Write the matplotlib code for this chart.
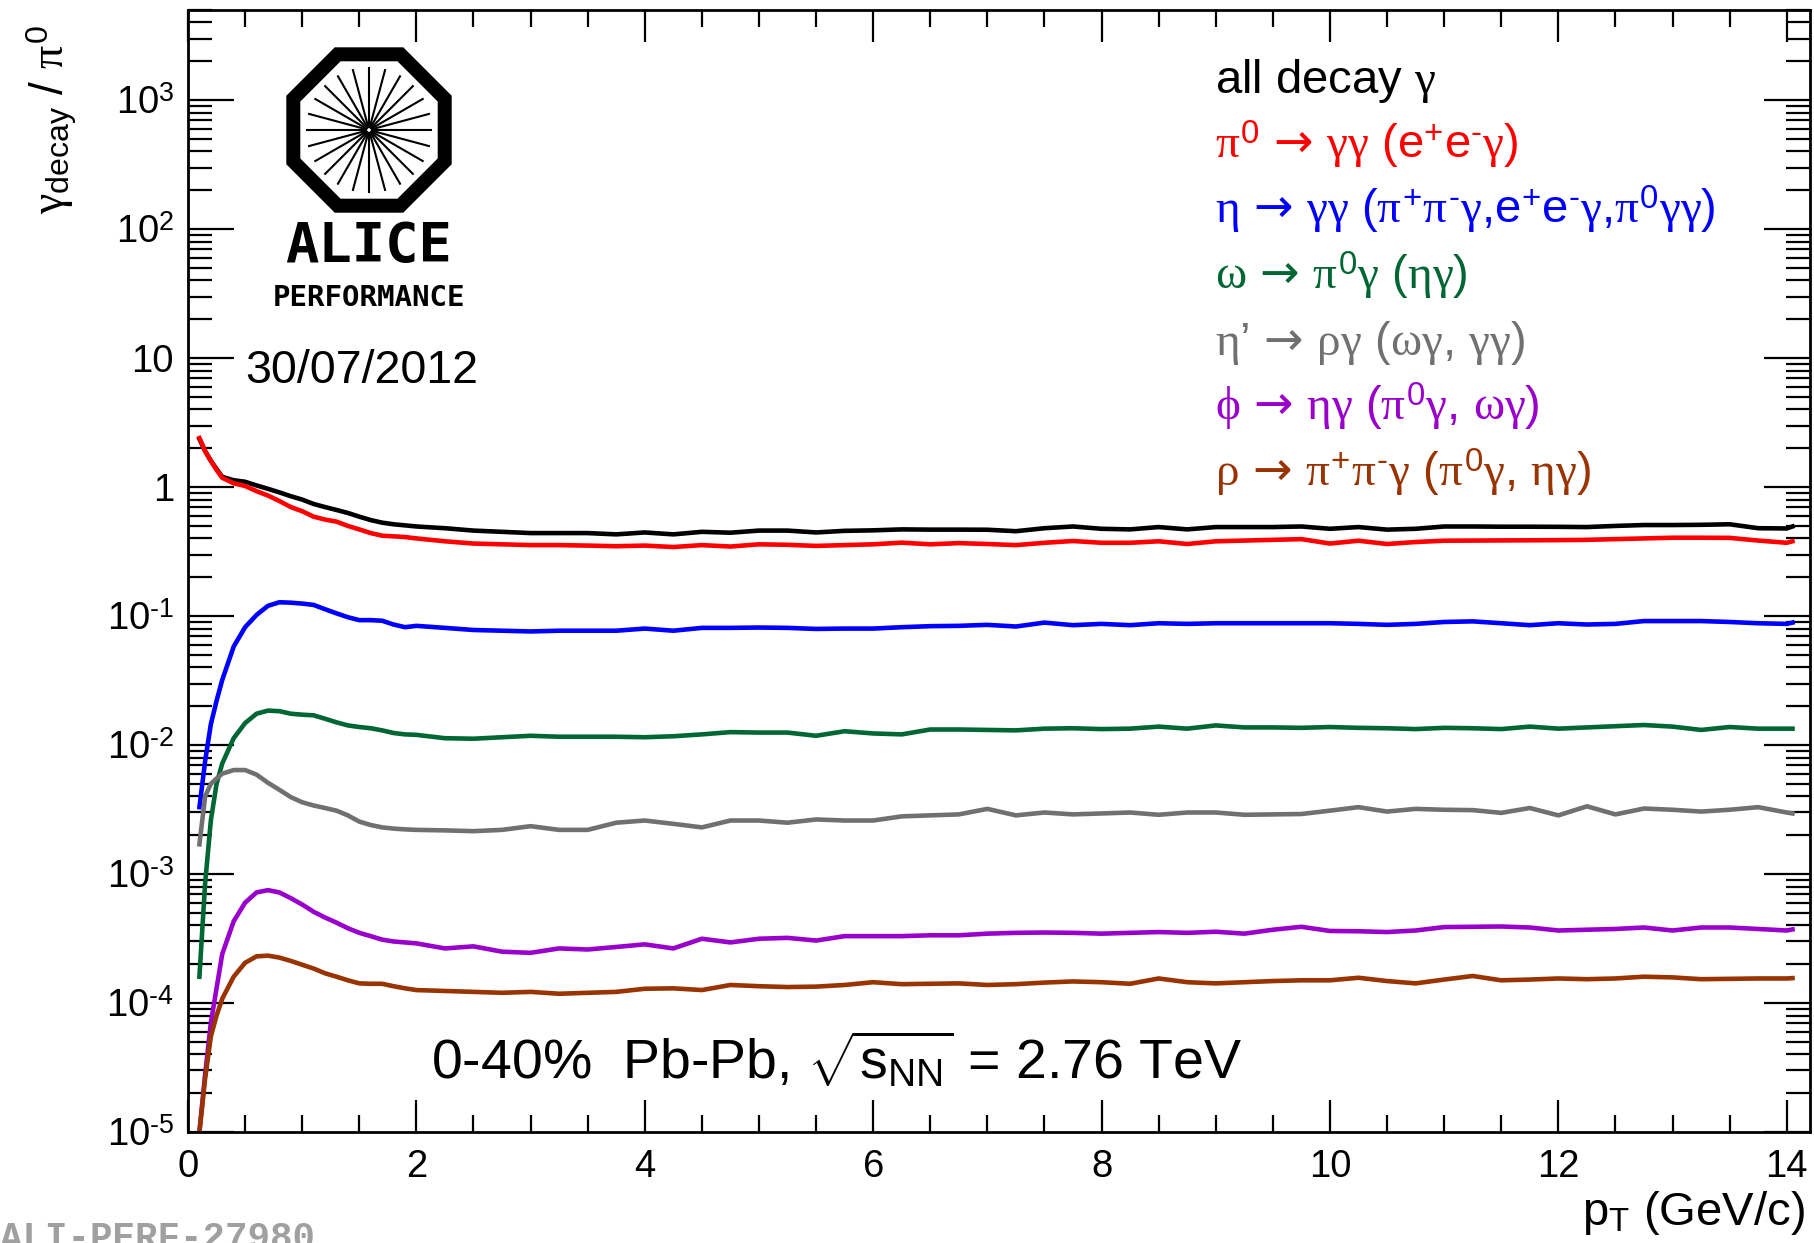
import matplotlib
matplotlib.use("Agg")
import matplotlib.pyplot as plt
import numpy as np
from matplotlib.ticker import MultipleLocator, LogLocator, FuncFormatter, NullFormatter
from matplotlib.patches import RegularPolygon

plt.rcParams['font.family'] = ['Liberation Sans', 'DejaVu Sans']
plt.rcParams['mathtext.fontset'] = 'custom'
plt.rcParams['mathtext.rm'] = 'Liberation Sans'
plt.rcParams['mathtext.it'] = 'Liberation Serif'
plt.rcParams['mathtext.bf'] = 'Liberation Sans:bold'
plt.rcParams['mathtext.sf'] = 'DejaVu Sans'

# pT grid (GeV/c)
pt = [0.1, 0.15, 0.2, 0.25, 0.3, 0.4, 0.5, 0.6, 0.7, 0.8, 0.9, 1.0, 1.1, 1.2, 1.3, 1.4, 1.5, 1.6, 1.7, 1.8, 1.9, 2.0,
      2.25, 2.5, 2.75, 3.0, 3.25, 3.5, 3.75, 4.0, 4.25, 4.5, 4.75, 5.0, 5.25, 5.5, 5.75, 6.0,
      6.25, 6.5, 6.75, 7.0, 7.25, 7.5, 7.75, 8.0, 8.25, 8.5, 8.75, 9.0, 9.25, 9.5, 9.75, 10.0,
      10.25, 10.5, 10.75, 11.0, 11.25, 11.5, 11.75, 12.0, 12.25, 12.5, 12.75, 13.0, 13.25, 13.5, 13.75, 14.0,
      14.05]

all_decay = [2.36, 1.9, 1.6, 1.38, 1.2, 1.13, 1.10, 1.03, 0.97, 0.91, 0.85, 0.80, 0.74, 0.70, 0.665, 0.63, 0.59, 0.555, 0.53, 0.515, 0.505, 0.495,
             0.48, 0.46, 0.45, 0.44, 0.44, 0.44, 0.43, 0.445, 0.43, 0.45, 0.443, 0.46, 0.46, 0.445, 0.458, 0.462,
             0.47, 0.468, 0.468, 0.467, 0.455, 0.48, 0.495, 0.475, 0.47, 0.49, 0.47, 0.49, 0.49, 0.49, 0.495, 0.475,
             0.49, 0.468, 0.475, 0.495, 0.495, 0.493, 0.493, 0.492, 0.49, 0.5, 0.508, 0.508, 0.51, 0.515, 0.48, 0.478,
             0.495]
pi0 = [2.4, 1.9, 1.6, 1.36, 1.18, 1.07, 1.02, 0.93, 0.86, 0.78, 0.70, 0.65, 0.59, 0.56, 0.54, 0.50, 0.47, 0.44, 0.42, 0.415, 0.41, 0.40,
       0.38, 0.365, 0.36, 0.355, 0.355, 0.352, 0.348, 0.352, 0.343, 0.355, 0.346, 0.36, 0.357, 0.35, 0.355, 0.36,
       0.371, 0.36, 0.368, 0.362, 0.355, 0.37, 0.382, 0.37, 0.37, 0.38, 0.362, 0.38, 0.385, 0.39, 0.395, 0.365,
       0.384, 0.362, 0.375, 0.384, 0.385, 0.386, 0.387, 0.388, 0.39, 0.395, 0.4, 0.405, 0.405, 0.404, 0.385, 0.37,
       0.38]
eta = [0.0033, 0.0075, 0.0145, 0.022, 0.032, 0.058, 0.082, 0.102, 0.12, 0.128, 0.127, 0.125, 0.122, 0.113, 0.105, 0.098, 0.093, 0.093, 0.092, 0.086, 0.082, 0.084,
       0.081, 0.078, 0.077, 0.076, 0.077, 0.077, 0.077, 0.08, 0.077, 0.081, 0.081, 0.0815, 0.081, 0.0795, 0.08, 0.08,
       0.082, 0.0835, 0.084, 0.0855, 0.083, 0.089, 0.085, 0.087, 0.085, 0.088, 0.087, 0.088, 0.088, 0.088, 0.088, 0.088,
       0.087, 0.0855, 0.087, 0.09, 0.091, 0.088, 0.085, 0.088, 0.086, 0.087, 0.0915, 0.0915, 0.0915, 0.09, 0.088, 0.087,
       0.089]
omega = [1.6e-4, 8.5e-4, 2.6e-3, 5.0e-3, 7.2e-3, 0.0113, 0.0148, 0.0175, 0.0185, 0.0183, 0.0175, 0.0172, 0.017, 0.016, 0.015, 0.0142, 0.0138, 0.0135, 0.013, 0.0124, 0.0121, 0.012,
         0.0113, 0.0112, 0.0115, 0.0118, 0.0116, 0.0116, 0.0116, 0.0115, 0.0117, 0.0121, 0.0126, 0.0125, 0.0125, 0.0118, 0.0128, 0.0123,
         0.0121, 0.0132, 0.0132, 0.0131, 0.013, 0.0134, 0.0135, 0.0133, 0.0134, 0.0139, 0.0134, 0.0142, 0.0137, 0.0137, 0.0136, 0.0138,
         0.0136, 0.0135, 0.0133, 0.0136, 0.0135, 0.0133, 0.0139, 0.0134, 0.0137, 0.014, 0.0143, 0.0139, 0.0131, 0.0138, 0.0134, 0.0134,
         0.0134]
eta_prime = [1.7e-3, 4.0e-3, 5.0e-3, 5.5e-3, 6.0e-3, 6.4e-3, 6.4e-3, 5.9e-3, 5.1e-3, 4.5e-3, 3.95e-3, 3.6e-3, 3.4e-3, 3.25e-3, 3.1e-3, 2.85e-3, 2.55e-3, 2.4e-3, 2.3e-3, 2.25e-3, 2.22e-3, 2.2e-3,
             2.18e-3, 2.15e-3, 2.2e-3, 2.35e-3, 2.2e-3, 2.2e-3, 2.5e-3, 2.6e-3, 2.45e-3, 2.3e-3, 2.6e-3, 2.6e-3, 2.5e-3, 2.65e-3, 2.6e-3, 2.6e-3,
             2.8e-3, 2.85e-3, 2.9e-3, 3.2e-3, 2.85e-3, 3.0e-3, 2.9e-3, 2.95e-3, 3.0e-3, 2.88e-3, 3.0e-3, 3.0e-3, 2.88e-3, 2.9e-3, 2.92e-3, 3.1e-3,
             3.3e-3, 3.05e-3, 3.2e-3, 3.15e-3, 3.13e-3, 2.98e-3, 3.25e-3, 2.85e-3, 3.35e-3, 2.9e-3, 3.22e-3, 3.15e-3, 3.05e-3, 3.15e-3, 3.3e-3, 3.0e-3,
             2.95e-3]
phi = [1.0e-5, 2.8e-5, 7.0e-5, 1.3e-4, 2.4e-4, 4.3e-4, 6.0e-4, 7.2e-4, 7.5e-4, 7.2e-4, 6.5e-4, 5.8e-4, 5.1e-4, 4.6e-4, 4.2e-4, 3.8e-4, 3.5e-4, 3.3e-4, 3.1e-4, 3.0e-4, 2.95e-4, 2.9e-4,
       2.65e-4, 2.75e-4, 2.5e-4, 2.45e-4, 2.65e-4, 2.6e-4, 2.72e-4, 2.85e-4, 2.65e-4, 3.15e-4, 2.95e-4, 3.15e-4, 3.2e-4, 3.05e-4, 3.3e-4, 3.3e-4,
       3.3e-4, 3.35e-4, 3.35e-4, 3.45e-4, 3.5e-4, 3.52e-4, 3.5e-4, 3.45e-4, 3.5e-4, 3.55e-4, 3.5e-4, 3.57e-4, 3.45e-4, 3.7e-4, 3.9e-4, 3.62e-4,
       3.6e-4, 3.55e-4, 3.65e-4, 3.88e-4, 3.9e-4, 3.92e-4, 3.85e-4, 3.65e-4, 3.7e-4, 3.75e-4, 3.85e-4, 3.65e-4, 3.85e-4, 3.85e-4, 3.75e-4, 3.65e-4,
       3.72e-4]
rho = [1.0e-5, 2.6e-5, 5.5e-5, 8.0e-5, 1.08e-4, 1.6e-4, 2.05e-4, 2.3e-4, 2.33e-4, 2.25e-4, 2.12e-4, 1.98e-4, 1.85e-4, 1.7e-4, 1.6e-4, 1.5e-4, 1.42e-4, 1.41e-4, 1.41e-4, 1.35e-4, 1.3e-4, 1.26e-4,
       1.24e-4, 1.22e-4, 1.2e-4, 1.22e-4, 1.18e-4, 1.2e-4, 1.22e-4, 1.29e-4, 1.3e-4, 1.26e-4, 1.38e-4, 1.35e-4, 1.33e-4, 1.34e-4, 1.38e-4, 1.45e-4,
       1.4e-4, 1.41e-4, 1.42e-4, 1.38e-4, 1.4e-4, 1.44e-4, 1.47e-4, 1.45e-4, 1.41e-4, 1.55e-4, 1.45e-4, 1.42e-4, 1.45e-4, 1.48e-4, 1.5e-4, 1.5e-4,
       1.57e-4, 1.48e-4, 1.42e-4, 1.52e-4, 1.62e-4, 1.5e-4, 1.52e-4, 1.55e-4, 1.53e-4, 1.55e-4, 1.6e-4, 1.58e-4, 1.53e-4, 1.54e-4, 1.55e-4, 1.55e-4,
       1.56e-4]

series = [all_decay, pi0, eta, omega, eta_prime, phi, rho]
colors = ['black', '#ff0000', '#0000ff', '#006633', '#707070', '#9900cc', '#993300']
arr = r'\,\mathsf{\rightarrow}\,'
labels = [r'all decay $\gamma$',
          r'$\pi^{0}' + arr + r'\gamma\gamma$ (e$^{+}$e$^{\text{-}}\gamma$)',
          r'$\eta' + arr + r'\gamma\gamma$ ($\pi^{+}\pi^{\text{-}}\gamma$,e$^{+}$e$^{\text{-}}\gamma$,$\pi^{0}\gamma\gamma$)',
          r'$\omega' + arr + r'\pi^{0}\gamma$ ($\eta\gamma$)',
          r'$\eta$’$' + arr + r'\rho\gamma$ ($\omega\gamma$, $\gamma\gamma$)',
          r'$\phi' + arr + r'\eta\gamma$ ($\pi^{0}\gamma$, $\omega\gamma$)',
          r'$\rho' + arr + r'\pi^{+}\pi^{\text{-}}\gamma$ ($\pi^{0}\gamma$, $\eta\gamma$)']

W, H = 1815, 1243
fig = plt.figure(figsize=(W / 100, H / 100), dpi=100)
ax = fig.add_axes([188 / W, 1 - 1132 / H, 1621.6 / W, 1122 / H])

for y, c in zip(series, colors):
    ax.plot(pt, y, color=c, lw=3.3, solid_joinstyle='round')

ax.set_yscale('log')
ax.set_xlim(0, 14.2)
ax.set_ylim(1e-5, 5e3)

ax.xaxis.set_major_locator(MultipleLocator(2))
ax.xaxis.set_minor_locator(MultipleLocator(0.5))
ax.yaxis.set_major_locator(LogLocator(base=10, numticks=20))
ax.yaxis.set_minor_locator(LogLocator(base=10, subs=np.arange(2, 10), numticks=20))
ax.yaxis.set_minor_formatter(NullFormatter())


def ylab(v, pos):
    e = int(round(np.log10(v)))
    if e == 0:
        return '1'
    if e == 1:
        return '10'
    if e < 0:
        return r'$10^{\text{-}%d}$' % (-e)
    return r'$10^{%d}$' % e


ax.yaxis.set_major_formatter(FuncFormatter(ylab))
ax.tick_params(which='both', direction='in', top=True, right=True, width=1.6, labelsize=27.5)
ax.tick_params(axis='y', which='major', length=33, pad=10)
ax.tick_params(axis='y', which='minor', length=17)
ax.tick_params(axis='x', which='major', length=23, pad=12)
ax.tick_params(axis='x', which='minor', length=12)
for s in ax.spines.values():
    s.set_linewidth(2)

# axis titles
fig.text(1805 / W, 1 - 1225 / H, r'p$_{\mathrm{T}}$ (GeV/c)', ha='right', va='baseline', fontsize=34)
fig.text(52 / W, 1 - 25 / H, r'$\gamma_{\mathrm{decay}}$ / $\pi^{0}$', rotation=90, ha='center', va='top', fontsize=33)

# legend text
for i, (lab, c) in enumerate(zip(labels, colors)):
    fig.text(1215 / W, 1 - (92.6 + 65.6 * i) / H, lab, color=c, ha='left', va='baseline', fontsize=34)

fig.text(431 / W, 1 - 1079 / H, r'0-40%  Pb-Pb, $\sqrt{\mathrm{s}_{\mathrm{NN}}}$ = 2.76 TeV', ha='left', va='baseline', fontsize=40)
fig.text(245 / W, 1 - 383 / H, '30/07/2012', ha='left', va='baseline', fontsize=33.5)
fig.text(0, 1 - 1249 / H, 'ALI-PERF-27980', ha='left', va='baseline', fontsize=27,
         family='Liberation Mono', weight='bold', color='#a0a0a0')

# ALICE logo drawn in pixel space
lg = fig.add_axes([0, 0, 1, 1], zorder=5)
lg.set_xlim(0, W)
lg.set_ylim(H, 0)
lg.axis('off')
cx, cy = 369, 130
lg.add_patch(RegularPolygon((cx, cy), 8, radius=82 / np.cos(np.pi / 8), orientation=np.pi / 8, color='black'))
lg.add_patch(RegularPolygon((cx, cy), 8, radius=68 / np.cos(np.pi / 8), orientation=np.pi / 8, color='white'))
for a in np.arange(24) * np.pi / 12:
    lg.plot([cx + 3 * np.cos(a), cx + 62 * np.cos(a)], [cy + 3 * np.sin(a), cy + 62 * np.sin(a)], color='black', lw=1.5)
lg.text(cx, 246, 'ALICE', ha='center', va='center', fontsize=40, family='DejaVu Sans Mono', weight='bold')
lg.text(cx, 298, 'PERFORMANCE', ha='center', va='center', fontsize=21, family='DejaVu Sans Mono', weight='bold')

fig.savefig('out.png', dpi=100)
